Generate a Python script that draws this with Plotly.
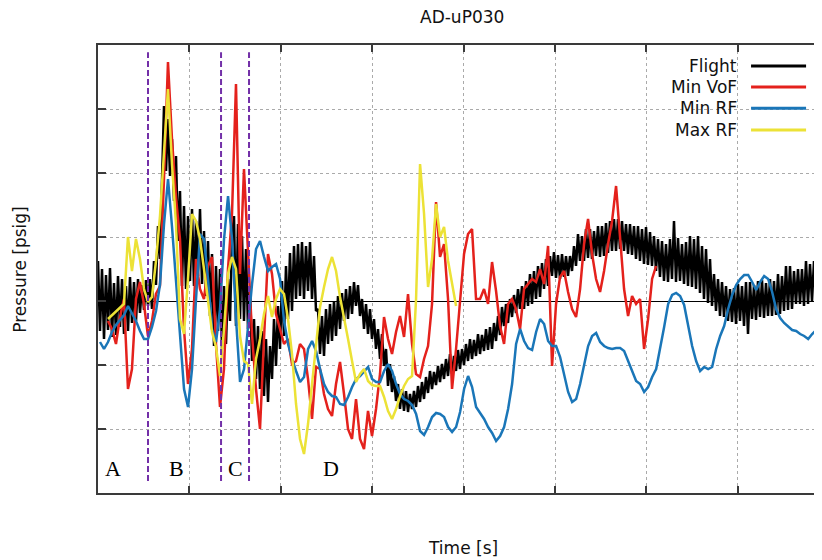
import numpy as np
import plotly.graph_objects as go

# ---------------- data (time in s, pressure in psig) ----------------
flight_t0, flight_t1 = 0.0, 7.92
flight = [4.0, -3.0, 3.2, -3.8, 2.6, -2.9, 3.3, -3.6, 1.8, -3.4, 2.5, -2.6, 2.2, -3.3, 1.5, -3.0, 2.4, -2.2,
          1.9, -2.0, 2.2, -1.2, 1.6, -0.9, 2.1, -0.5, 2.2, -0.8, 4.0, 1.6, 7.5, 4.2, 12.0, 19.5, 13.0, 18.2,
          12.5, 16.2, 10.0, 14.5, 6.0, 11.0, 1.5, 9.5, 1.2, 8.5, 2.0, 9.2, 1.5, 8.0, 2.5, 9.2, 1.7, 7.0,
          0.5, 6.0, -1.5, 4.7, -4.5, 3.5, -3.0, 3.2, -4.8, 1.5, -4.3, 2.2, -2.0, 6.5, 8.5, -2.5, 7.7, -1.8,
          6.5, -2.0, 5.2, -2.8, 1.5, -6.0, -1.8, -7.8, -2.5, -8.8, -3.0, -9.5, -3.8, -10.1, -4.5, -7.8,
          -1.8, -6.5, -0.5, -4.8, 2.0, -3.5, 3.5, -1.8, 4.8, -1.0, 5.5, 0.2, 5.7, 0.5, 5.9, 0.2, 5.5, 1.0,
          5.9, 0.2, 4.5, -1.0, -0.8, -5.3, -1.5, -5.5, -0.8, -4.3, -0.3, -4.0, 0.0, -3.5, 0.5, -2.8, 0.8,
          -2.0, 1.2, -1.8, 1.5, -1.3, 1.9, -0.5, 1.6, -1.5, 0.2, -2.8, -0.3, -3.3, -0.8, -3.8, -1.8, -4.8,
          -2.8, -5.8, -3.3, -6.5, -4.8, -8.5, -6.3, -9.1, -7.5, -10.0, -8.3, -10.8, -8.8, -11.0, -9.0,
          -11.1, -9.3, -10.8, -9.0, -10.6, -8.5, -10.1, -8.1, -9.8, -7.6, -9.2, -7.0, -8.8, -7.1, -8.4,
          -6.5, -8.1, -6.3, -7.8, -5.8, -7.5, -5.3, -7.3, -5.5, -7.0, -4.9, -6.8, -4.8, -6.4, -4.3, -6.0,
          -3.8, -5.8, -3.9, -5.5, -3.3, -5.3, -3.4, -5.0, -2.8, -4.9, -2.6, -4.8, -2.2, -4.0, -1.5, -3.4,
          -0.6, -2.5, -0.3, -2.2, 0.2, -1.6, 0.6, -1.2, 1.2, -0.8, 1.5, -0.8, 2.0, -0.5, 2.7, -0.3, 3.0,
          0.2, 3.5, 0.4, 3.8, 1.2, 4.2, 1.5, 4.5, 2.5, 4.9, 2.3, 4.6, 2.2, 4.7, 2.4, 4.5, 2.5, 4.5, 3.0,
          5.5, 3.5, 6.7, 4.0, 6.5, 4.0, 7.2, 4.3, 7.2, 4.2, 7.0, 4.5, 7.5, 4.4, 7.5, 4.5, 7.8, 4.8, 8.0,
          5.0, 8.2, 5.0, 8.2, 5.2, 8.0, 5.0, 7.7, 4.7, 7.7, 4.6, 7.5, 4.2, 7.5, 4.0, 7.2, 3.7, 7.4, 3.6,
          6.9, 3.5, 6.5, 3.0, 6.2, 2.4, 6.0, 2.0, 5.7, 1.9, 6.2, 2.2, 8.0, 1.9, 6.3, 2.0, 5.7, 1.7, 5.9,
          1.5, 6.5, 1.4, 6.2, 1.2, 6.5, 0.8, 5.5, 0.2, 5.2, -0.2, 4.2, -0.5, 2.7, -1.0, 2.2, -1.5, 1.9,
          -1.6, 1.5, -2.0, 1.2, -2.1, 1.3, -2.3, 1.7, -2.0, 1.5, -2.5, 1.9, -3.3, 1.9, -1.8, 1.6, -1.9,
          2.0, -1.6, 2.1, -1.7, 1.8, -1.5, 2.2, -1.5, 2.0, -1.4, 2.7, -1.3, 2.5, -1.0, 3.5, -0.9, 3.5,
          -0.8, 3.0, -0.3, 3.2, -0.3, 3.2, -0.5, 4.0, -0.3, 3.7, 0.0, 4.0, -0.2, 3.8, 0.2, 4.0]

min_vof_t0, min_vof_t1 = 0.109, 6.105
min_vof = [-2.0, -2.8, -4.3, -1.6, 0.2, -8.8, -6.8, 0.2, 1.9, -0.3, -3.5, -2.0, 0.7, 1.5, 12.2, 23.9,
           16.2, 10.4, 6.2, -2.8, -8.3, -4.8, 4.2, 1.2, 0.2, 3.5, 4.4, -4.3, -10.6, -6.8, 3.2, 8.7,
           21.7, 2.7, 13.2, 4.2, -3.3, -8.8, -12.8, -3.8, 4.7, 2.7, -1.3, -2.8, -4.3, -3.8, -6.3,
           -6.0, -4.3, -4.8, -7.8, -11.8, -6.6, -6.8, -9.3, -10.8, -11.5, -8.3, -6.1, -9.3, -12.8,
           -13.8, -9.8, -13.8, -14.8, -11.0, -13.5, -10.8, -7.3, -1.6, -3.8, -5.3, -3.1, -1.5, -3.6,
           0.7, -4.3, -7.3, -7.6, -5.8, -4.5, -0.3, 9.9, 4.4, 5.7, 0.2, -8.8, -4.8, 0.2, 4.7, 6.7,
           7.2, 0.2, 0.2, 1.2, -0.3, 3.9, 1.0, -2.5, -4.3, -0.3, 0.2, -0.8, -2.8, 1.2, 1.7, 2.2, 1.9,
           3.2, 1.7, 5.5, -6.5, -0.3, 2.4, 3.0, 0.9, -0.8, -1.6, 1.2, 5.7, 8.2, 4.7, 2.2, 0.9, 3.0,
           5.7, 8.0, 11.5, 6.2, 1.2, -1.5, 0.5, -0.3, 0.2, -4.8, -1.8, 2.2, 3.5]

min_rf_t0, min_rf_t1 = 0.022, 7.90
min_rf = [-4.1, -4.8, -4.1, -3.1, -2.4, -1.9, -1.4, -0.5, -1.2, -2.0, -3.0, -3.8, -3.8, -2.6, -1.0, 1.7,
          7.7, 12.2, 7.4, 1.9, -3.5, -8.8, -10.6, -6.8, 0.2, 6.7, 6.2, 2.2, -2.8, -4.1, -0.8, 6.2,
          10.5, 6.2, -1.8, -8.1, -6.8, -2.3, 1.7, 5.2, 6.0, 4.4, 3.0, 3.4, 3.7, 2.2, -2.0, -4.3,
          -5.8, -7.0, -8.1, -7.6, -4.8, -4.0, -5.0, -6.8, -8.3, -9.1, -9.5, -9.6, -10.3, -10.4, -9.6,
          -8.6, -7.8, -7.5, -7.0, -6.6, -7.8, -8.1, -8.1, -7.0, -6.3, -7.0, -8.3, -9.3, -9.8, -10.0,
          -10.4, -11.3, -13.0, -13.4, -12.6, -11.6, -11.2, -11.3, -11.6, -12.6, -13.1, -12.6, -11.1,
          -8.8, -7.5, -8.6, -10.6, -11.2, -11.8, -12.6, -13.2, -14.0, -13.5, -12.6, -10.8, -8.3,
          -4.3, -2.8, -4.0, -4.7, -4.9, -3.1, -1.8, -2.3, -4.0, -4.5, -4.5, -5.6, -7.5, -9.1, -10.1,
          -9.8, -8.3, -6.3, -4.5, -3.5, -3.2, -4.1, -4.5, -4.7, -4.8, -4.7, -4.7, -5.0, -6.0, -7.1,
          -8.0, -8.3, -9.1, -8.6, -7.6, -6.8, -4.8, -2.6, -0.3, 0.6, 0.8, 0.5, -0.4, -2.3, -4.5, -6.0,
          -7.0, -6.6, -6.8, -6.6, -4.8, -3.5, -2.5, -0.8, 0.6, 1.6, 2.2, 2.6, 2.6, 1.9, 1.1, 1.9, 2.5,
          2.2, 0.9, -0.8, -1.7, -2.2, -2.6, -2.9, -3.0, -3.3, -3.5, -3.8, -3.3, -2.9, -2.8]

max_rf_t0, max_rf_t1 = 0.109, 3.917
max_rf = [-1.8, -1.4, -1.1, -0.7, -0.3, 6.4, 3.0, 6.2, 4.2, 1.2, -0.1, 0.4, 4.0, 8.5, 15.2, 21.2, 13.7,
          7.7, -1.8, -3.3, 2.2, 8.7, 8.0, 6.2, 3.2, 0.2, -3.1, -4.6, -7.5, -2.8, 2.7, 4.4, 3.2, -3.5,
          -6.0, -6.3, -10.3, -5.8, -3.8, -1.3, 0.5, -1.6, 0.2, 1.2, 0.7, -1.8, -5.3, -10.3, -13.8,
          -15.3, -12.3, -8.3, -4.3, -0.6, 1.4, 3.2, 4.4, 3.0, 0.4, -1.6, -3.8, -6.0, -8.1, -7.3, -6.8,
          -8.0, -8.4, -8.5, -8.5, -9.6, -11.0, -11.8, -10.8, -9.5, -8.5, -7.8, -7.5, 0.2, 13.7, 8.7,
          1.4, 4.2, 9.7, 6.4, 7.4, 4.0, 1.7, -0.5]

series_names = ["Flight", "Min VoF", "Min RF", "Max RF"]
series_colors = ["#000000", "#e4211c", "#1a76b8", "#ece236"]
series_widths = [2.5, 2.5, 2.5, 2.5]

phase_bounds = [0.547, 1.346, 1.652]          # s
phase_labels = ["A", "B", "C", "D"]
phase_label_t = [0.164, 0.864, 1.499, 2.549]  # s

x_range = [0.0, 7.92]
y_range = [-19.2, 25.6]
x_grid_step = 1.0
y_grid_step = 6.4

# ---------------- figure ----------------
series = [(flight, flight_t0, flight_t1), (min_vof, min_vof_t0, min_vof_t1),
          (min_rf, min_rf_t0, min_rf_t1), (max_rf, max_rf_t0, max_rf_t1)]

fig = go.Figure()
for (vals, t0, t1), name, col, w in zip(series, series_names, series_colors, series_widths):
    t = np.linspace(t0, t1, len(vals))
    fig.add_trace(go.Scatter(x=t, y=vals, mode="lines", name=name,
                             line=dict(color=col, width=w), showlegend=False))

for xb in phase_bounds:
    fig.add_shape(type="line", xref="x", yref="paper", x0=xb, x1=xb, y0=0.027, y1=0.984,
                  line=dict(color="#7330a8", width=2, dash="6px,3px"))

for lab, tx in zip(phase_labels, phase_label_t):
    fig.add_annotation(x=tx, y=0.054, xref="x", yref="paper", text=lab, showarrow=False,
                       xanchor="center", yanchor="middle",
                       font=dict(family="Liberation Serif", size=22, color="black"))

# custom key: text right-aligned, sample line to the right
key_y = [0.953, 0.906, 0.859, 0.810]
for name, col, ky in zip(series_names, series_colors, key_y):
    fig.add_annotation(x=0.886, y=ky, xref="paper", yref="paper", text=name, showarrow=False,
                       xanchor="right", yanchor="middle",
                       font=dict(family="DejaVu Sans", size=17, color="#111111"))
    fig.add_shape(type="line", xref="paper", yref="paper", x0=0.902, x1=0.978, y0=ky, y1=ky,
                  line=dict(color=col, width=3))

txt_font = dict(family="DejaVu Sans", size=17, color="#111111")
fig.add_annotation(x=0.503, y=1.062, xref="paper", yref="paper", text="AD-uP030",
                   showarrow=False, xanchor="center", yanchor="middle", font=txt_font)
fig.add_annotation(x=0.504, y=-0.123, xref="paper", yref="paper", text="Time [s]",
                   showarrow=False, xanchor="center", yanchor="middle", font=txt_font)
fig.add_annotation(x=-0.108, y=0.498, xref="paper", yref="paper", text="Pressure [psig]",
                   showarrow=False, textangle=-90, xanchor="center", yanchor="middle",
                   font=txt_font)

# page body has an 8px default margin, so the figure is sized to fill the rest of the window
fig.update_layout(
    width=814, height=552,
    margin=dict(l=90, r=0, t=37, b=67),
    paper_bgcolor="white", plot_bgcolor="white",
    showlegend=False,
    xaxis=dict(range=x_range, tick0=0, dtick=x_grid_step, showgrid=True, gridcolor="#aaaaaa",
               griddash="dot", gridwidth=1, showline=True, linecolor="#3a3a3a", linewidth=1.5,
               mirror="ticks", ticks="inside", ticklen=7, tickcolor="#3a3a3a", tickwidth=1.5,
               showticklabels=False, zeroline=False),
    yaxis=dict(range=y_range, tick0=0, dtick=y_grid_step, showgrid=True, gridcolor="#aaaaaa",
               griddash="dot", gridwidth=1, showline=True, linecolor="#3a3a3a", linewidth=1.5,
               mirror=False, ticks="inside", ticklen=8, tickcolor="#3a3a3a", tickwidth=1.5,
               showticklabels=False, zeroline=True, zerolinecolor="black", zerolinewidth=1),
)

fig.write_html("out.html")
